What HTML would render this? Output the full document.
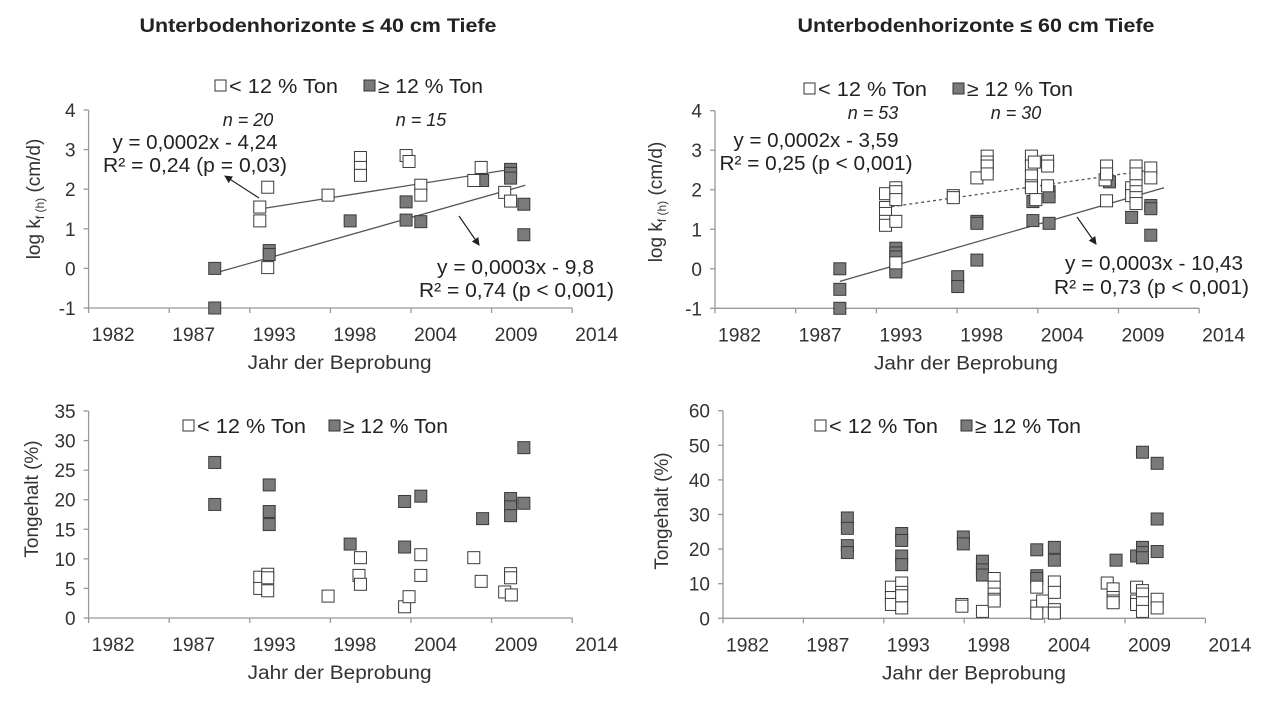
<!DOCTYPE html>
<html><head><meta charset="utf-8"><style>
html,body{margin:0;padding:0;background:#fff;}
svg{display:block;font-family:"Liberation Sans",Arial,sans-serif;}
</style></head><body>
<svg id="chart" width="1264" height="715" viewBox="0 0 1264 715" xmlns="http://www.w3.org/2000/svg">
<defs><marker id="ah" markerWidth="8" markerHeight="8" refX="7" refY="4" orient="auto" markerUnits="userSpaceOnUse"><path d="M0,0 L8,4 L0,8 z" fill="#222"/></marker></defs>
<text x="318" y="32" text-anchor="middle" font-weight="bold" font-size="19" fill="#222" textLength="357" lengthAdjust="spacingAndGlyphs">Unterbodenhorizonte ≤ 40 cm Tiefe</text>
<text x="976" y="32" text-anchor="middle" font-weight="bold" font-size="19" fill="#222" textLength="357" lengthAdjust="spacingAndGlyphs">Unterbodenhorizonte ≤ 60 cm Tiefe</text>
</svg>
<script>
// ---- Data ----
const xTickLabels = ["1982","1987","1993","1998","2004","2009","2014"];
const kfTicks = [-1,0,1,2,3,4];
const ton35Ticks = [0,5,10,15,20,25,30,35];
const ton60Ticks = [0,10,20,30,40,50,60];

// Panel 1: log kf, <=40 cm
const p1OpenYears = [1993.76,1993.76,1994.3,1994.3,1998.4,2000.6,2000.6,2000.6,2003.7,2003.9,2004.7,2004.7,2008.3,2008.8,2010.4,2010.8];
const p1OpenVals  = [1.55,1.2,2.05,0.02,1.85,2.8,2.55,2.35,2.85,2.7,2.1,1.85,2.22,2.55,1.92,1.7];
const p1FillYears = [1990.7,1990.7,1994.4,1994.4,1999.9,2003.7,2003.7,2004.7,2008.9,2010.8,2010.8,2010.8,2011.7,2011.7];
const p1FillVals  = [0,-1,0.45,0.35,1.2,1.68,1.22,1.18,2.22,2.5,2.4,2.28,1.62,0.85];
const p1OpenTrendYears = [1993.76,2010.8];
const p1OpenTrendVals  = [1.5,2.5];
const p1FillTrendYears = [1990.7,2011.8];
const p1FillTrendVals  = [-0.12,2.1];

// Panel 2: log kf, <=60 cm
const p2OpenYears = [1993.7,1993.7,1993.7,1993.7,1993.7,1994.4,1994.4,1994.4,1994.4,1994.4,1998.3,1998.3,1999.9,2000.6,2000.6,2000.6,2000.6,2003.6,2003.6,2003.6,2003.6,2003.6,2003.8,2003.9,2004.7,2004.7,2004.7,2008.6,2008.7,2008.7,2008.7,2010.4,2010.4,2010.7,2010.7,2010.7,2010.7,2010.7,2010.7,2011.7,2011.7];
const p2OpenVals  = [1.9,1.55,1.4,1.2,1.1,2.05,1.95,1.75,1.2,0.15,1.85,1.8,2.3,2.85,2.7,2.6,2.4,2.85,2.6,2.35,2.1,2.05,2.7,1.75,2.72,2.6,2.1,2.25,2.6,2.4,1.72,2.05,1.85,2.6,2.4,2.1,1.95,1.8,1.65,2.55,2.3];
const p2FillYears = [1990.6,1990.6,1990.6,1994.4,1994.4,1994.4,1994.4,1994.4,1998.6,1998.6,1999.9,1999.9,1999.9,2003.7,2003.7,2004.8,2004.8,2004.8,2008.9,2010.4,2010.7,2010.7,2010.7,2011.7,2011.7,2011.7];
const p2FillVals  = [0,-0.52,-1,0.52,0.4,0.3,0,-0.08,-0.2,-0.45,1.2,1.15,0.22,1.7,1.22,1.95,1.82,1.15,2.2,1.3,2.55,2.45,2.3,1.6,1.52,0.85];
const p2OpenTrendYears = [1993.7,2011.7];
const p2OpenTrendVals  = [1.55,2.5];
const p2FillTrendYears = [1990.6,2012.6];
const p2FillTrendVals  = [-0.32,2.05];

// Panel 3: Tongehalt, <=40 cm
const p3FillYears = [1990.7,1990.7,1994.4,1994.4,1994.4,1999.9,2003.6,2003.6,2004.7,2008.9,2010.8,2010.8,2010.8,2011.7,2011.7];
const p3FillVals  = [26.3,19.2,22.5,18,15.8,12.5,19.7,12,20.6,16.8,20.2,18.8,17.3,28.8,19.4];
const p3OpenYears = [1993.76,1993.76,1994.3,1994.3,1994.3,1998.4,2000.5,2000.6,2000.6,2003.6,2003.9,2004.7,2004.7,2008.3,2008.8,2010.4,2010.8,2010.8,2010.85];
const p3OpenVals  = [6.9,5,7.4,6.8,4.6,3.7,7.2,5.7,10.2,1.9,3.6,10.7,7.2,10.2,6.2,4.4,7.5,6.8,3.9];

// Panel 4: Tongehalt, <=60 cm
const p4FillYears = [1990.6,1990.6,1990.6,1990.6,1994.3,1994.3,1994.3,1994.3,1998.5,1998.5,1999.8,1999.8,1999.8,2003.5,2003.5,2003.5,2004.7,2004.7,2008.9,2010.3,2010.7,2010.7,2010.7,2010.7,2011.7,2011.7,2011.7];
const p4FillVals  = [29,26,21,19,24.5,22.5,18,15.5,23.5,21.5,16.5,14,12.5,19.8,12.3,11.5,20.5,16.8,16.8,18,48,20.5,19,17.5,44.8,28.7,19.3];
const p4OpenYears = [1993.6,1993.6,1993.6,1994.3,1994.3,1994.3,1994.3,1998.4,1998.4,1999.8,2000.6,2000.6,2000.6,2000.6,2000.6,2003.5,2003.5,2003.5,2003.9,2004.7,2004.7,2004.7,2004.7,2008.3,2008.7,2008.7,2008.7,2008.7,2010.3,2010.3,2010.3,2010.7,2010.7,2010.7,2010.7,2011.7,2011.7];
const p4OpenVals  = [9,6,4,10.2,7.5,6.5,3,4,3.5,2,11.5,9,7,5.5,5,9,3.5,1.5,5,10.5,7.5,2.5,1.5,10.2,8.5,6,5,4.5,9,5,4,8,7,4.5,2,5.5,3];

// ---- Drawing ----
const NS = "http://www.w3.org/2000/svg";
const svg = document.getElementById("chart");
function mk(tag, attrs, parent){ const e=document.createElementNS(NS,tag); for(const k in attrs) e.setAttribute(k,attrs[k]); (parent||svg).appendChild(e); return e; }

function panel(cfg){
  const g = mk("g",{});
  
  
  const xs = y => cfg.axisX + (y-1982.13)/5.476*cfg.sp;
  const ys = v => cfg.y0 + (v-cfg.vmin)/(cfg.vmax-cfg.vmin)*(cfg.y1-cfg.y0);
  const xEnd = cfg.axisX + 6*cfg.sp;
  // axes
  const ya = mk("line",{x1:cfg.axisX,y1:cfg.y1,x2:cfg.axisX,y2:cfg.y0,stroke:"#999","stroke-width":1.3},g);
  
  
  const xa = mk("line",{x1:cfg.axisX,y1:cfg.y0,x2:xEnd,y2:cfg.y0,stroke:"#999","stroke-width":1.3},g);
  
  
  cfg.yticks.forEach(v=>{
    const yy=ys(v);
    mk("line",{x1:cfg.axisX-5,y1:yy,x2:cfg.axisX,y2:yy,stroke:"#999","stroke-width":1.3},g);
    const t=mk("text",{x:cfg.axisX-13,y:yy+7,"text-anchor":"end","font-size":19,fill:"#333"},g);
    t.textContent=String(v);
    
    
  });
  xTickLabels.forEach((lab,i)=>{
    const xx=cfg.axisX+i*cfg.sp;
    mk("line",{x1:xx,y1:cfg.y0,x2:xx,y2:cfg.y0+5,stroke:"#999","stroke-width":1.3},g);
    const t=mk("text",{x:xx+3,y:cfg.y0+33,"font-size":19,fill:"#333",textLength:43,lengthAdjust:"spacingAndGlyphs"},g);
    t.textContent=lab;
    
    
  });
  const xt=mk("text",{x:cfg.axisX+251,y:cfg.y0+61,"text-anchor":"middle","font-size":19,fill:"#333",textLength:184,lengthAdjust:"spacingAndGlyphs"},g);
  xt.textContent="Jahr der Beprobung";
  
  
  // y title
  const yt=mk("text",{x:0,y:0,"text-anchor":"middle","font-size":19,fill:"#333",transform:`translate(${cfg.ytx},${cfg.yty}) rotate(-90)`},g);
  
  
  if(cfg.kf){
    yt.innerHTML='log k<tspan font-size="12" dy="4">f (h)</tspan><tspan dy="-4"> (cm/d)</tspan>';
  } else yt.textContent="Tongehalt (%)";
  // trends
  (cfg.trends||[]).forEach(tr=>{
    const l=mk("line",{x1:xs(tr.yrs[0]),y1:ys(tr.vals[0]),x2:xs(tr.yrs[1]),y2:ys(tr.vals[1]),stroke:"#555","stroke-width":1.3},g);
    if(tr.dash) l.setAttribute("stroke-dasharray","3,3");
    
    
  });
  // points
  function pts(yrs,vals,fill,name){
    yrs.forEach((yr,i)=>{
      const r=mk("rect",{x:xs(yr)-6,y:ys(vals[i])-6,width:12,height:12,fill:fill,stroke:"#3a3a3a","stroke-width":1},g);
      
      
    });
  }
  pts(cfg.fy,cfg.fv,"#7a7a7a","point-clay-high");
  pts(cfg.oy,cfg.ov,"#fff","point-clay-low");
  // legend
  const L=cfg.leg;
  const lg=mk("g",{},g);
  
  
  const r1=mk("rect",{x:L[0],y:L[2]-6,width:11,height:11,fill:"#fff",stroke:"#333","stroke-width":1},lg);
  
  
  const t1=mk("text",{x:L[0]+14,y:L[2]+7,"font-size":20,fill:"#222",textLength:L[1]-L[0]-14,lengthAdjust:"spacingAndGlyphs"},lg);
  t1.textContent="< 12 % Ton";
  
  
  const r2=mk("rect",{x:L[3],y:L[2]-6,width:11,height:11,fill:"#7a7a7a",stroke:"#333","stroke-width":1},lg);
  
  
  const t2=mk("text",{x:L[3]+14,y:L[2]+7,"font-size":20,fill:"#222",textLength:L[4]-L[3]-14,lengthAdjust:"spacingAndGlyphs"},lg);
  t2.textContent="≥ 12 % Ton";
  
  
  // annotations
  (cfg.notes||[]).forEach(n=>{
    const t=mk("text",{x:n.x,y:n.y,"text-anchor":n.a||"middle","font-size":n.fs||20,fill:"#222"},g);
    if(n.it) t.setAttribute("font-style","italic");
    if(n.w){t.setAttribute("textLength",n.w);t.setAttribute("lengthAdjust","spacingAndGlyphs");}
    t.textContent=n.t;
    
    
  });
  (cfg.arrows||[]).forEach(a=>{
    const l=mk("line",{x1:a[0],y1:a[1],x2:a[2],y2:a[3],stroke:"#222","stroke-width":1.2,"marker-end":"url(#ah)"},g);
    
    
  });
}

panel({name:"panel-kf-40cm",kf:true,axisX:88.6,sp:80.6,y0:308,y1:110,vmin:-1,vmax:4,yticks:kfTicks,ytx:40,yty:199,
  fy:p1FillYears,fv:p1FillVals,oy:p1OpenYears,ov:p1OpenVals,
  trends:[{yrs:p1OpenTrendYears,vals:p1OpenTrendVals,name:"trend-line-low"},{yrs:p1FillTrendYears,vals:p1FillTrendVals,name:"trend-line-high"}],
  leg:[215,338,86,364,483],
  notes:[{x:248,y:126,t:"n = 20",it:1,fs:18,name:"n-label-low"},{x:421,y:126,t:"n = 15",it:1,fs:18,name:"n-label-high"},
    {x:195,y:149,t:"y = 0,0002x - 4,24",w:165,name:"equation-low"},{x:195,y:172,t:"R² = 0,24 (p = 0,03)",w:184,name:"r2-low"},
    {x:594,y:274,t:"y = 0,0003x - 9,8",a:"end",w:157,name:"equation-high"},{x:614,y:297,t:"R² = 0,74 (p < 0,001)",a:"end",w:195,name:"r2-high"}],
  arrows:[[259,198,225,176],[459,216,479,245]]});

panel({name:"panel-kf-60cm",kf:true,axisX:715,sp:80.7,y0:308.3,y1:110.7,vmin:-1,vmax:4,yticks:kfTicks,ytx:662,yty:202,
  fy:p2FillYears,fv:p2FillVals,oy:p2OpenYears,ov:p2OpenVals,
  trends:[{yrs:p2OpenTrendYears,vals:p2OpenTrendVals,dash:1,name:"trend-line-low"},{yrs:p2FillTrendYears,vals:p2FillTrendVals,name:"trend-line-high"}],
  leg:[804,927,89,953,1073],
  notes:[{x:873,y:119,t:"n = 53",it:1,fs:18,name:"n-label-low"},{x:1016,y:119,t:"n = 30",it:1,fs:18,name:"n-label-high"},
    {x:816,y:147,t:"y = 0,0002x - 3,59",w:165,name:"equation-low"},{x:816,y:170,t:"R² = 0,25 (p < 0,001)",w:193,name:"r2-low"},
    {x:1243,y:270,t:"y = 0,0003x - 10,43",a:"end",w:178,name:"equation-high"},{x:1249,y:294,t:"R² = 0,73 (p < 0,001)",a:"end",w:195,name:"r2-high"}],
  arrows:[[1077,217,1096,244]]});

panel({name:"panel-ton-40cm",kf:false,axisX:88.6,sp:80.6,y0:618,y1:411,vmin:0,vmax:35,yticks:ton35Ticks,ytx:38,yty:499,
  fy:p3FillYears,fv:p3FillVals,oy:p3OpenYears,ov:p3OpenVals,
  leg:[183,306,426,329,448]});

panel({name:"panel-ton-60cm",kf:false,axisX:723,sp:80.4,y0:618.3,y1:410.7,vmin:0,vmax:60,yticks:ton60Ticks,ytx:668,yty:511,
  fy:p4FillYears,fv:p4FillVals,oy:p4OpenYears,ov:p4OpenVals,
  leg:[815,938,426,961,1081]});
</script>
</body></html>
